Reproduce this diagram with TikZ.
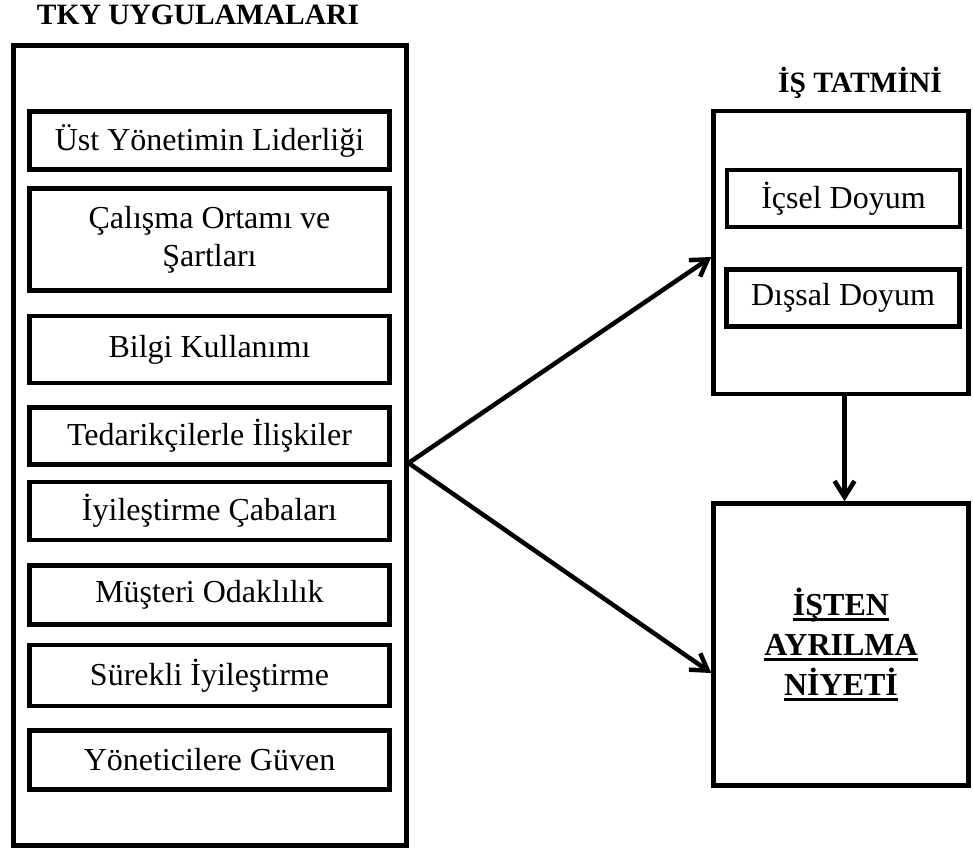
\documentclass[tikz,border=0pt]{standalone}
\usepackage{fontspec}
\setmainfont{Liberation Serif}[BoldFont={Liberation Serif Bold}]
\usetikzlibrary{arrows.meta,positioning,calc}

% underline with a heavier rule
\newsavebox{\ulbox}
\newcommand{\thickul}[1]{\leavevmode\sbox{\ulbox}{#1}\rlap{\rule[-5.5pt]{\wd\ulbox}{3pt}}\usebox{\ulbox}}

\begin{document}
\begin{tikzpicture}[
    x=1pt, y=-1pt,
    node distance=18pt,
    every node/.style={font=\fontsize{32}{38}\selectfont},
    heading/.style={font=\bfseries\fontsize{29.5}{36}\selectfont},
    frame/.style={rectangle, draw, line width=4.5pt, inner sep=0pt},
    item/.style={rectangle, draw, line width=4.5pt, minimum width=360pt, align=center},
    subitem/.style={rectangle, draw, line width=4.5pt, minimum width=233pt, minimum height=57pt},
    arrow/.style={-{Straight Barb[length=16pt,width=20pt]}, line width=4.5pt}
]
\useasboundingbox (0,0) rectangle (973,852);

% TKY block
\node[heading] (tkytitle) at (198,15) {TKY UYGULAMALARI};
\node[frame, minimum width=393pt, minimum height=800pt] (tky) at (209.8,445.5) {};

\node[item, minimum height=58pt] (liderlik) at (209.5,140.5) {Üst Yönetimin Liderliği};
\node[item, minimum height=102pt, below=14.5pt of liderlik] (ortam) {Çalışma Ortamı ve\\ Şartları};
\node[item, minimum height=67pt, below=21pt of ortam] (bilgi) {Bilgi Kullanımı};
\node[item, minimum height=57pt, below=20pt of bilgi] (tedarik) {Tedarikçilerle İlişkiler};
\node[item, minimum height=58pt, below=13pt of tedarik] (cabalar) {İyileştirme Çabaları};
\node[item, minimum height=59pt, below=21pt of cabalar] (musteri) {Müşteri Odaklılık};
\node[item, minimum height=61pt, below=16pt of musteri] (surekli) {Sürekli İyileştirme};
\node[item, minimum height=59pt, below=20pt of surekli] (guven) {Yöneticilere Güven};

% Is tatmini block
\node[heading] (tatmintitle) at (860,83) {İŞ TATMİNİ};
\node[frame, minimum width=255pt, minimum height=283pt] (tatmin) at (841,252.5) {};
\node[subitem] (icsel) at (843.5,198.5) {İçsel Doyum};
\node[subitem] (dissal) at (843,298) {Dışsal Doyum};

% Isten ayrilma niyeti
\node[frame, minimum width=255pt, minimum height=282pt, text width=240pt, align=center,
      font=\bfseries\fontsize{32}{40}\selectfont] (niyet) at (841,644.5)
      {\thickul{İŞTEN}\\ \thickul{AYRILMA}\\ \thickul{NİYETİ}};

% Arrows
\coordinate (fork) at (tky.east |- 0,463);
\draw[arrow] (fork) -- (tatmin.west |- 0,257);
\draw[arrow] (fork) -- (niyet.west |- 0,673);
\draw[arrow] (tatmin.south -| 844.5,0) -- (niyet.north -| 844.5,0);

\end{tikzpicture}
\end{document}
